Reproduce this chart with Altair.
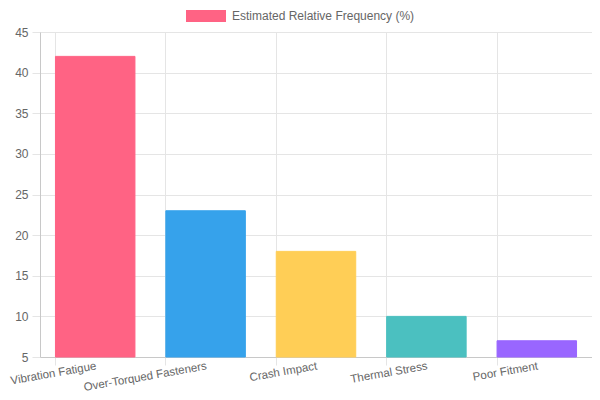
import altair as alt
import pandas as pd


'''
Failure causes and their estimated frequency
'''
causes = [
  'Vibration Fatigue',
  'Over-Torqued Fasteners',
  'Crash Impact',
  'Thermal Stress',
  'Poor Fitment'
]
frequency = [42, 23, 18, 10, 7]
colors = ['#ff6384', '#36a2eb', '#ffce56', '#4bc0c0', '#9966ff']
series_label = 'Estimated Relative Frequency (%)'

df = pd.DataFrame({'Cause': causes, 'Frequency': frequency})

font = 'Liberation Sans'
grid_color = '#e5e5e5'
text_color = '#666666'

chart = alt.Chart(df).mark_bar(strokeWidth=1).encode(
  x=alt.X(
    'Cause:N',
    sort=causes,
    title=None,
    scale=alt.Scale(paddingInner=0.28, paddingOuter=0.14),
    axis=alt.Axis(
      labelAngle=-10,
      labelAlign='right',
      labelBaseline='top',
      labelFontSize=11.5,
      labelColor=text_color,
      labelFont=font,
      labelPadding=-5,
      labelLimit=300,
      labelOverlap=False,
      bandPosition=0,
      grid=True,
      gridColor=grid_color,
      tickColor=grid_color,
      tickSize=8,
      domainColor='#c8c8c8'
    )
  ),
  y=alt.Y(
    'Frequency:Q',
    title=None,
    scale=alt.Scale(domain=[5, 45], zero=False, nice=False),
    axis=alt.Axis(
      values=[5, 10, 15, 20, 25, 30, 35, 40, 45],
      labelFontSize=12,
      labelColor=text_color,
      labelFont=font,
      labelPadding=4,
      gridColor=grid_color,
      tickColor=grid_color,
      tickSize=8,
      domainColor='#c8c8c8'
    )
  ),
  y2=alt.datum(5),
  color=alt.Color(
    'Cause:N',
    sort=causes,
    scale=alt.Scale(domain=causes, range=colors),
    legend=alt.Legend(
      values=['Vibration Fatigue'],
      labelExpr="'" + series_label + "'",
      title=None,
      orient='none',
      legendX=146,
      legendY=-36,
      symbolType='M-1,-0.3H1V0.3H-1Z',
      symbolSize=1600,
      symbolStrokeWidth=0,
      labelFontSize=12,
      labelColor=text_color,
      labelFont=font,
      labelOffset=6,
      labelLimit=400
    )
  ),
  stroke=alt.Color('Cause:N', sort=causes, scale=alt.Scale(domain=causes, range=colors), legend=None)
).properties(
  width=552,
  height=325,
  autosize=alt.AutoSizeParams(type='none'),
  padding={'left': 32, 'top': 24, 'right': 0, 'bottom': 35}
).configure_view(
  stroke=grid_color
)

chart.save("out.html", embed_options={"renderer": "svg", "actions": False})
